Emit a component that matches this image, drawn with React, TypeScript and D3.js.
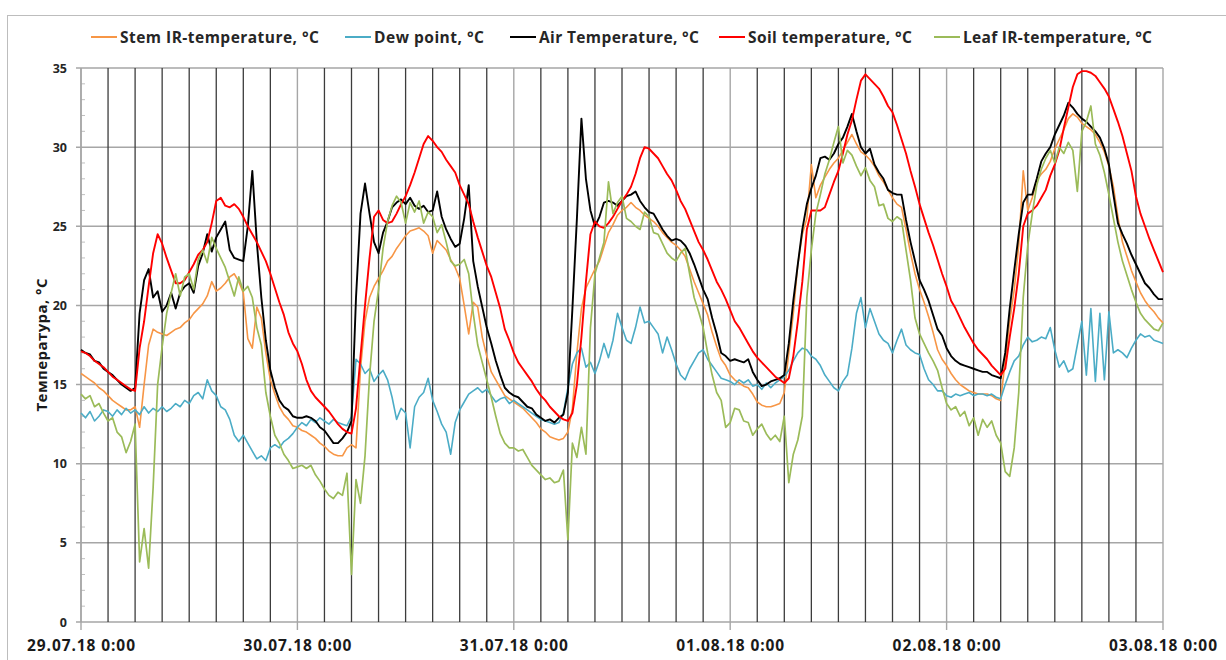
import { line, scaleLinear, scaleTime, timeFormat, timeHour, timeMinute } from "d3";

// readings every 30 minutes, 29.07.18 0:00 .. 03.08.18 0:00
const START = new Date(2018, 6, 29, 0, 0);
const END = new Date(2018, 7, 3, 0, 0);
const STEP_MIN = 30;

const stemIR = [
  15.7, 15.5, 15.3, 15.1, 14.8, 14.6, 14.3, 14.0, 13.8, 13.6, 13.4, 13.4,
  13.6, 12.3, 15.0, 17.5, 18.5, 18.3, 18.2, 18.1, 18.3, 18.5, 18.6, 18.9,
  19.1, 19.5, 19.8, 20.1, 20.6, 21.5, 20.9, 21.1, 21.4, 21.8, 22.0, 21.5,
  20.8, 17.9, 17.3, 19.9, 19.2, 17.0, 15.3, 14.4, 13.6, 13.1, 12.8, 12.4,
  12.3, 12.1, 12.0, 11.8, 11.6, 11.3, 11.1, 10.8, 10.6, 10.5, 10.5, 11.0,
  11.2, 11.0, 16.0, 19.0, 20.5, 21.2, 21.7, 22.2, 22.8, 23.1, 23.6, 24.0,
  24.4, 24.7, 24.8, 24.9, 24.7, 24.4, 23.3, 24.1, 23.8, 23.5, 22.9, 22.4,
  21.7, 20.0, 18.2, 20.2, 19.9, 18.0, 16.8, 15.8, 15.3, 14.8, 14.3, 14.1,
  13.9, 13.7, 13.5, 13.2, 12.9, 12.6, 12.2, 12.0, 11.7, 11.6, 11.5, 11.6,
  12.0, 13.5, 17.0, 19.8, 21.1, 21.7, 22.3, 22.8, 23.7, 24.6, 25.1, 25.7,
  26.0, 26.2, 26.5, 26.2, 26.0, 25.7, 25.5, 25.3, 25.0, 24.6, 24.3, 24.0,
  23.8, 23.5, 23.1, 22.3, 21.5, 20.8, 20.1, 19.4, 18.3, 17.4, 16.6, 16.2,
  15.6, 15.3, 15.1, 14.9, 14.8, 14.4, 13.9, 13.7, 13.6, 13.6, 13.7, 13.8,
  14.5, 17.0, 19.5, 22.6, 24.5, 25.5, 28.9, 26.8, 27.6, 28.1, 28.6, 29.0,
  29.3, 29.8, 30.3, 30.8, 30.2, 29.7, 29.5, 29.2, 28.8, 28.2, 27.8, 27.3,
  26.8, 26.4, 26.2, 24.8, 23.3, 22.0, 21.0, 20.2, 19.3, 18.3, 17.2, 16.6,
  16.2, 15.7, 15.3, 15.0, 14.8, 14.6, 14.5, 14.4, 14.4, 14.4, 14.3, 14.1,
  14.0, 16.5, 19.0, 21.0, 23.8, 28.5, 26.0, 26.8, 27.9, 28.3, 28.6, 29.1,
  29.9, 30.5, 31.1, 31.8, 32.1, 31.9, 31.5, 31.3, 31.1, 30.8, 30.3, 29.7,
  28.8, 27.5, 25.6, 24.0, 23.1, 22.2, 21.5, 20.8, 20.3, 19.9, 19.6, 19.2,
  18.9,
];

const dewPoint = [
  13.2, 12.9, 13.3, 12.7, 13.0, 13.4, 13.3, 13.0, 13.4, 13.1, 13.5, 13.2,
  13.4, 13.1, 13.6, 13.2, 13.5, 13.3, 13.6, 13.3, 13.5, 13.8, 13.6, 14.0,
  13.8, 14.3, 14.5, 14.1, 15.3, 14.6, 14.3, 13.6, 13.4, 12.8, 11.8, 11.4,
  11.8, 11.3, 10.8, 10.3, 10.5, 10.2, 11.0, 11.2, 11.0, 11.4, 11.6, 11.9,
  12.3, 12.6, 12.4, 12.8, 12.6, 12.9, 12.7, 12.5, 12.8, 12.6, 12.5, 12.4,
  13.0, 16.6, 16.3, 15.7, 16.0, 15.2, 15.6, 15.9, 15.3, 14.2, 12.8, 13.5,
  13.2, 11.0, 13.6, 14.2, 14.5, 15.4, 14.0, 13.3, 12.5, 12.0, 10.6, 12.6,
  13.4, 13.9, 14.4, 14.6, 14.8, 14.5, 14.7, 14.3, 13.9, 14.1, 14.2, 13.8,
  14.0, 13.8, 13.6, 13.4, 13.2, 13.0, 12.8, 12.7, 12.6, 12.5, 12.6, 13.2,
  14.8, 16.3, 17.0, 17.3, 16.1, 16.4, 15.7, 16.5, 17.6, 16.7, 17.8, 19.5,
  18.6, 17.8, 17.6, 18.6, 19.9, 18.9, 19.0, 18.6, 18.2, 17.0, 18.0, 17.2,
  16.3, 15.6, 15.3, 16.0, 16.5, 17.0, 17.2, 16.6, 16.2, 15.8, 15.4, 15.3,
  15.2, 15.0, 15.3, 15.1, 15.3, 14.9, 15.0, 14.7, 15.1, 14.8, 15.1, 15.3,
  15.5, 15.9, 16.5, 17.0, 17.3, 17.2, 16.8, 16.6, 16.2, 15.6, 15.2, 14.8,
  14.6, 15.2, 15.6, 17.3, 19.5, 20.5, 18.6, 19.8, 19.0, 18.2, 17.8, 17.6,
  17.0, 17.8, 18.5, 17.5, 17.2, 17.0, 16.9, 16.0, 15.3, 15.0, 14.6, 14.6,
  14.3, 14.2, 14.4, 14.3, 14.4, 14.5, 14.3, 14.4, 14.4, 14.3, 14.4, 14.2,
  14.1, 15.0, 15.8, 16.5, 16.8, 17.5, 18.0, 17.7, 17.8, 18.0, 17.9, 18.6,
  17.2, 16.1, 16.5, 15.8, 16.0, 17.5, 19.0, 15.6, 19.8, 15.2, 19.5, 15.3,
  19.6, 17.0, 17.2, 17.0, 16.7, 17.3, 17.8, 18.2, 18.0, 18.1, 17.8, 17.7,
  17.6,
];

const airTemp = [
  17.2, 17.0, 16.9, 16.5, 16.4, 16.0, 15.8, 15.6, 15.3, 15.0, 14.8, 14.6,
  14.8, 19.5, 21.6, 22.3, 20.5, 20.9, 19.6, 20.0, 20.8, 19.8, 20.8, 21.2,
  21.4, 20.8, 22.5, 23.3, 24.5, 23.4, 24.3, 24.8, 25.3, 23.5, 23.0, 22.9,
  22.8, 25.0, 28.5, 24.0, 20.5, 17.8, 15.9, 14.8, 14.0, 13.6, 13.4, 13.0,
  12.9, 12.9, 13.0, 12.9, 12.7, 12.3, 12.1, 11.7, 11.3, 11.3, 11.6, 12.0,
  12.7, 20.5, 25.8, 27.7, 25.8, 24.0, 23.3, 24.6, 25.3, 26.2, 26.5, 26.7,
  26.4, 26.8, 26.3, 26.1, 26.3, 25.9, 26.0, 27.2, 25.6, 24.8, 24.2, 23.7,
  23.9, 25.5, 27.6, 22.8, 21.2, 19.9, 18.6, 17.6, 16.5, 15.6, 14.8, 14.5,
  14.3, 14.2, 13.9, 13.6, 13.5, 13.1, 12.9, 12.7, 12.8, 12.6, 12.9, 13.1,
  14.5, 19.8, 25.5, 31.8, 28.0, 26.0, 25.0, 25.6, 26.5, 26.6, 26.5, 26.3,
  26.6, 26.9, 27.0, 27.2, 26.6, 26.2, 25.9, 25.8, 25.3, 24.8, 24.4, 24.1,
  24.2, 24.1, 23.8, 23.3, 22.6, 21.8, 21.0, 20.4, 19.2, 18.2, 17.0, 16.8,
  16.5, 16.6, 16.5, 16.4, 16.6, 15.8, 15.3, 14.9, 15.0, 15.2, 15.3, 15.4,
  15.6, 17.6, 20.3, 22.6, 24.8, 26.4, 27.4, 28.2, 29.3, 29.4, 29.2, 29.6,
  30.2, 30.6, 31.3, 32.1, 31.0, 30.0, 29.6, 29.9, 28.9, 28.4, 28.0, 27.3,
  27.1, 27.0, 27.0, 25.4, 24.0, 22.8, 21.6, 21.0, 20.3, 19.4, 18.5, 18.1,
  17.3, 16.8, 16.5, 16.3, 16.2, 16.1, 16.0, 15.9, 15.8, 15.8, 15.6, 15.5,
  15.4, 17.0, 19.8, 22.2, 24.5, 26.5, 27.0, 27.0, 28.0, 29.1, 29.6, 30.0,
  30.8, 31.4, 32.0, 32.8, 32.5, 32.1, 31.8, 31.6, 31.3, 31.0, 30.6, 29.9,
  28.9, 27.0, 25.2, 24.5, 23.9, 23.2, 22.6, 22.0, 21.4, 21.1, 20.7, 20.4,
  20.4,
];

const soilTemp = [
  17.1, 17.0, 16.8, 16.5, 16.3, 16.1, 15.8, 15.5, 15.3, 15.1, 14.9, 14.7,
  14.6, 17.3, 19.0, 21.2, 23.3, 24.5, 23.9, 23.0, 22.2, 21.4, 21.4, 21.6,
  22.1, 22.6, 23.2, 23.5, 24.0, 25.2, 26.6, 26.8, 26.3, 26.2, 26.4, 26.1,
  25.6, 25.0, 24.5, 24.0, 23.4, 22.8, 22.0, 21.1, 20.2, 19.4, 18.3, 17.6,
  17.1, 16.3, 15.3, 14.6, 14.2, 13.9, 13.6, 13.3, 12.9, 12.5, 12.2, 12.0,
  11.9, 13.5, 16.8, 20.0, 23.0, 25.6, 26.0, 25.4, 25.2, 25.3, 25.8, 26.4,
  26.9, 27.6, 28.4, 29.3, 30.2, 30.7, 30.4, 30.0, 29.7, 29.2, 28.8, 28.4,
  27.6, 27.0, 26.4, 25.3, 24.3, 23.4, 22.5, 21.8, 20.8, 19.8, 18.5, 17.8,
  17.0, 16.4, 16.0, 15.6, 15.2, 14.7, 14.3, 14.0, 13.6, 13.3, 13.0, 12.8,
  12.7, 13.2, 15.0, 18.0, 21.5, 24.5, 25.3, 25.0, 24.9, 25.2, 25.6, 26.1,
  26.6, 27.0, 27.5, 28.3, 29.3, 30.0, 29.9, 29.6, 29.3, 28.8, 28.3, 27.9,
  27.3, 26.6, 26.1, 25.4, 24.7, 24.0, 23.5, 22.9, 22.2, 21.5, 21.0, 20.4,
  19.7, 19.0, 18.6, 18.1, 17.6, 17.1, 16.7, 16.4, 16.1, 15.8, 15.5, 15.3,
  15.1, 15.4, 16.8, 19.0, 21.5, 24.8, 26.0, 26.0, 26.0, 26.2, 27.0, 27.8,
  28.5, 29.6, 30.8, 31.7, 33.0, 34.2, 34.6, 34.3, 34.0, 33.7, 33.2, 32.6,
  32.2, 31.4, 30.5, 29.6, 28.5, 27.5, 26.4, 25.5, 24.6, 23.8, 22.9, 22.0,
  21.2, 20.3, 19.8, 19.2, 18.6, 18.1, 17.6, 17.2, 16.9, 16.6, 16.2, 15.9,
  15.6, 16.0, 18.0, 19.8, 22.0, 25.0, 25.8, 26.0, 26.3, 26.8, 27.3, 28.2,
  28.9, 29.8, 31.2, 32.5, 33.8, 34.6, 34.8, 34.8, 34.7, 34.5, 34.1, 33.7,
  33.2, 32.4, 31.6, 30.7, 29.6, 28.5, 26.9, 25.8, 25.0, 24.2, 23.5, 22.8,
  22.1,
];

const leafIR = [
  14.4, 14.1, 14.3, 13.6, 13.8, 13.2, 12.7, 12.9, 12.0, 11.7, 10.7, 11.4,
  12.5, 3.8, 5.9, 3.4, 8.5, 15.0, 17.4, 19.5, 20.8, 22.0, 20.6, 21.8,
  22.0, 21.0, 22.9, 23.5, 22.7, 24.3, 23.6, 23.0, 22.4, 21.5, 20.6, 21.8,
  20.9, 21.2, 20.5, 18.6, 17.5, 14.5, 13.0, 11.8, 11.3, 10.6, 10.2, 9.7,
  9.8, 9.9, 9.7, 9.9, 9.3, 8.9, 8.4, 8.0, 7.8, 8.2, 8.0, 9.4,
  3.0, 9.0, 7.5, 10.5, 15.5, 19.0, 21.0, 23.6, 25.3, 26.3, 26.9, 26.5,
  25.2, 26.5, 25.9, 26.6, 25.2, 25.9, 25.6, 24.6, 25.1, 24.0, 22.8, 22.5,
  22.6, 22.9, 22.0, 19.5, 17.5, 16.4, 15.3, 14.2, 13.0, 11.9, 11.3, 11.0,
  11.0, 10.8, 10.9, 10.4, 9.9, 9.6, 9.3, 9.0, 9.1, 8.8, 8.9, 9.6,
  5.2, 11.3, 10.4, 12.3, 10.6, 18.6, 22.0, 23.0, 24.0, 27.8, 25.8, 26.5,
  26.9, 25.5, 25.3, 25.0, 24.8, 25.9, 25.6, 24.6, 24.5, 23.9, 23.3, 23.0,
  22.8, 23.3, 23.6, 22.0, 20.5, 19.6, 18.6, 17.0, 15.6, 14.5, 14.0, 12.3,
  12.6, 13.5, 13.4, 12.7, 12.6, 11.8, 12.2, 12.5, 11.9, 11.5, 11.8, 11.4,
  13.0, 8.8, 10.6, 11.5, 13.0, 20.5, 23.5, 25.8, 27.0, 28.3, 29.2, 30.3,
  31.3, 29.0, 29.8, 29.5, 28.8, 28.2, 28.7, 27.9, 27.5, 26.3, 26.4, 25.5,
  25.3, 25.6, 25.4, 23.5, 21.6, 19.2, 18.2, 17.6, 17.0, 16.5, 15.9, 14.8,
  13.8, 13.4, 13.6, 13.0, 13.3, 12.4, 12.9, 11.8, 12.8, 12.3, 12.7, 11.8,
  11.3, 9.5, 9.2, 11.0, 14.5, 20.5, 23.8, 25.8, 27.6, 28.6, 29.3, 29.8,
  29.0, 30.0, 29.6, 30.3, 29.8, 27.2, 31.0, 31.6, 32.6, 30.2, 29.5, 28.4,
  27.0, 25.5, 24.0, 22.8, 21.9, 21.0, 20.2, 19.5, 19.1, 18.8, 18.5, 18.4,
  18.9,
];

const seriesNames = [
  "Stem IR-temperature, °C",
  "Dew point, °C",
  "Air Temperature, °C",
  "Soil temperature, °C",
  "Leaf IR-temperature, °C",
];
const seriesValues = [stemIR, dewPoint, airTemp, soilTemp, leafIR];
const seriesColors = ["#f79646", "#4bacc6", "#000000", "#ff0000", "#9bbb59"];
const seriesWidths = [1.6, 1.6, 1.9, 1.9, 1.7];

const yTicks = [0, 5, 10, 15, 20, 25, 30, 35];
const yTitle = "Температура, °C";

const FONT = "'Open Sans', 'Noto Sans', Lato, sans-serif";
const W = 1226;
const H = 660;
const PLOT = { left: 81, right: 1163, top: 68, bottom: 622 };
const LEGEND_X = [91, 345, 510, 719, 934];
const LEGEND_TEXT_W = [199, 110, 160, 164, 189];

export default function App() {
  const x = scaleTime().domain([START, END]).range([PLOT.left, PLOT.right]);
  const y = scaleLinear().domain([0, 35]).range([PLOT.bottom, PLOT.top]);

  const timeOf = (i: number) => timeMinute.offset(START, i * STEP_MIN);
  const path = line<number>()
    .x((_, i) => x(timeOf(i)))
    .y((d) => y(d));

  const gridTimes = timeHour.every(3)!.range(START, timeHour.offset(END, 1));
  const dayTimes = gridTimes.filter((d) => d.getHours() === 0);
  const fmt = timeFormat("%d.%m.%y %-H:%M");
  const minor = y.ticks(35);

  return (
    <svg
      width={W}
      height={H}
      style={{ position: "absolute", left: 0, top: 0, background: "#fff" }}
      fontFamily={FONT}
    >
      <rect x={7.5} y={15.5} width={W} height={H} fill="#fff" stroke="#bdbdbd" />

      {/* legend */}
      {seriesNames.map((name, i) => (
        <g key={name} transform={`translate(${LEGEND_X[i]},37)`}>
          <line x1={0} x2={26} y1={0} y2={0} stroke={seriesColors[i]} strokeWidth={2} />
          <text
            x={29}
            y={0}
            dy="0.36em"
            fontSize={15.5}
            fontWeight="bold"
            fill="#262626"
            textLength={LEGEND_TEXT_W[i]}
            lengthAdjust="spacing"
          >
            {name}
          </text>
        </g>
      ))}

      {/* horizontal grid */}
      {yTicks.map((t) => (
        <line
          key={`h${t}`}
          x1={PLOT.left - 5}
          x2={PLOT.right}
          y1={y(t)}
          y2={y(t)}
          stroke="#a6a6a6"
          strokeWidth={1.5}
        />
      ))}
      {/* minor y ticks */}
      {minor
        .filter((t) => t % 5 !== 0)
        .map((t) => (
          <line
            key={`m${t}`}
            x1={PLOT.left}
            x2={PLOT.left + 4}
            y1={y(t)}
            y2={y(t)}
            stroke="#bfbfbf"
          />
        ))}

      {/* vertical grid every 3 hours */}
      {gridTimes.map((d) => {
        const isDay = d.getHours() === 0;
        return (
          <line
            key={d.getTime()}
            x1={x(d)}
            x2={x(d)}
            y1={PLOT.top}
            y2={isDay ? PLOT.bottom + 8 : PLOT.bottom}
            stroke={isDay ? "#a6a6a6" : "#3c3c3c"}
            strokeWidth={isDay ? 1.4 : 1.3}
          />
        );
      })}
      <line x1={PLOT.left} x2={PLOT.left} y1={PLOT.top} y2={PLOT.bottom} stroke="#a6a6a6" strokeWidth={1.5} />

      {/* series */}
      {seriesValues.map((vals, i) => (
        <path
          key={seriesNames[i]}
          d={path(vals) ?? undefined}
          fill="none"
          stroke={seriesColors[i]}
          strokeWidth={seriesWidths[i]}
          strokeLinejoin="round"
        />
      ))}

      {/* y tick labels */}
      {yTicks.map((t) => (
        <text
          key={`yl${t}`}
          x={67}
          y={y(t)}
          dy="0.36em"
          textAnchor="end"
          fontSize={12.5}
          fontWeight="bold"
          fill="#262626"
        >
          {t}
        </text>
      ))}

      {/* x tick labels */}
      {dayTimes.map((d) => (
        <text
          key={`xl${d.getTime()}`}
          x={x(d)}
          y={651}
          textAnchor="middle"
          fontSize={15.5}
          fontWeight="bold"
          fill="#1a1a1a"
          textLength={108}
          lengthAdjust="spacing"
        >
          {fmt(d)}
        </text>
      ))}

      <text
        transform={`translate(42,${(PLOT.top + PLOT.bottom) / 2}) rotate(-90)`}
        textAnchor="middle"
        dy="0.36em"
        fontSize={15}
        fontWeight="bold"
        fill="#1a1a1a"
        textLength={133}
        lengthAdjust="spacing"
      >
        {yTitle}
      </text>
    </svg>
  );
}
